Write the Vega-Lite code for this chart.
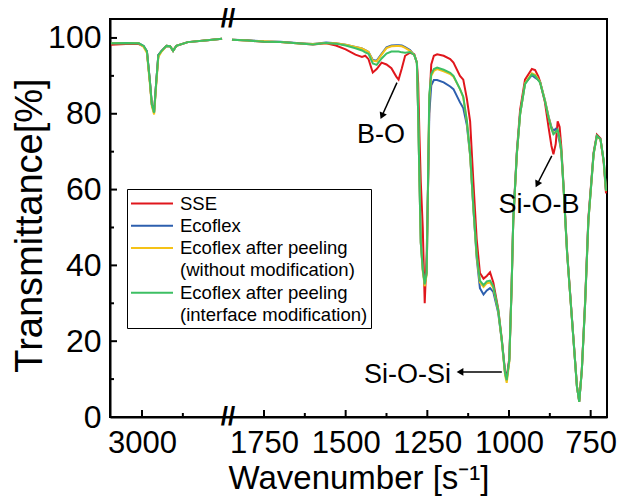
{
"$schema": "https://vega.github.io/schema/vega-lite/v6.json",
"width": 497, "height": 398,
"autosize": {"type": "none"},
"padding": {"left": 110, "top": 19, "right": 12, "bottom": 79},
"background": "white",
"config": {
  "font": "Liberation Sans",
  "view": {"stroke": "black", "strokeWidth": 2},
  "axis": {"grid": false, "domainColor": "black", "domainWidth": 2, "tickColor": "black", "tickWidth": 2, "labelColor": "black", "titleColor": "black", "labelFont": "Liberation Sans", "titleFont": "Liberation Sans", "titleFontWeight": "normal"}
},
"datasets": {
"spectra": [
{"sample":"SSE","seg":"a","wn":3095,"T":98.2},{"sample":"SSE","seg":"a","wn":3050,"T":98.4},{"sample":"SSE","seg":"a","wn":3010,"T":98.4},{"sample":"SSE","seg":"a","wn":2995,"T":97.8},{"sample":"SSE","seg":"a","wn":2985,"T":96.4},{"sample":"SSE","seg":"a","wn":2976,"T":88.7},{"sample":"SSE","seg":"a","wn":2970,"T":82.5},{"sample":"SSE","seg":"a","wn":2963,"T":80.5},{"sample":"SSE","seg":"a","wn":2957,"T":87.8},{"sample":"SSE","seg":"a","wn":2950,"T":95.5},{"sample":"SSE","seg":"a","wn":2940,"T":96.6},{"sample":"SSE","seg":"a","wn":2925,"T":97.9},{"sample":"SSE","seg":"a","wn":2914,"T":97.8},{"sample":"SSE","seg":"a","wn":2905,"T":96.6},{"sample":"SSE","seg":"a","wn":2895,"T":97.9},{"sample":"SSE","seg":"a","wn":2860,"T":98.9},{"sample":"SSE","seg":"a","wn":2800,"T":99.4},{"sample":"SSE","seg":"a","wn":2755,"T":99.8},
{"sample":"SSE","seg":"b","wn":1848,"T":99.5},{"sample":"SSE","seg":"b","wn":1800,"T":99.3},{"sample":"SSE","seg":"b","wn":1750,"T":99.0},{"sample":"SSE","seg":"b","wn":1700,"T":98.9},{"sample":"SSE","seg":"b","wn":1650,"T":98.6},{"sample":"SSE","seg":"b","wn":1600,"T":98.3},{"sample":"SSE","seg":"b","wn":1560,"T":98.6},{"sample":"SSE","seg":"b","wn":1530,"T":98.0},{"sample":"SSE","seg":"b","wn":1500,"T":97.0},{"sample":"SSE","seg":"b","wn":1470,"T":95.6},{"sample":"SSE","seg":"b","wn":1450,"T":95.0},{"sample":"SSE","seg":"b","wn":1440,"T":95.3},{"sample":"SSE","seg":"b","wn":1430,"T":94.4},{"sample":"SSE","seg":"b","wn":1417,"T":90.9},{"sample":"SSE","seg":"b","wn":1405,"T":91.8},{"sample":"SSE","seg":"b","wn":1390,"T":93.5},{"sample":"SSE","seg":"b","wn":1375,"T":93.0},{"sample":"SSE","seg":"b","wn":1360,"T":92.0},{"sample":"SSE","seg":"b","wn":1345,"T":89.8},{"sample":"SSE","seg":"b","wn":1338,"T":89.0},{"sample":"SSE","seg":"b","wn":1328,"T":92.0},{"sample":"SSE","seg":"b","wn":1318,"T":95.3},{"sample":"SSE","seg":"b","wn":1303,"T":96.1},{"sample":"SSE","seg":"b","wn":1290,"T":95.7},{"sample":"SSE","seg":"b","wn":1282,"T":93.5},{"sample":"SSE","seg":"b","wn":1278,"T":88.0},{"sample":"SSE","seg":"b","wn":1274,"T":74.0},{"sample":"SSE","seg":"b","wn":1270,"T":62.0},{"sample":"SSE","seg":"b","wn":1264,"T":50.0},{"sample":"SSE","seg":"b","wn":1258,"T":30.0},{"sample":"SSE","seg":"b","wn":1252,"T":43.0},{"sample":"SSE","seg":"b","wn":1248,"T":60.0},{"sample":"SSE","seg":"b","wn":1244,"T":82.5},{"sample":"SSE","seg":"b","wn":1238,"T":93.0},{"sample":"SSE","seg":"b","wn":1230,"T":95.3},{"sample":"SSE","seg":"b","wn":1220,"T":95.7},{"sample":"SSE","seg":"b","wn":1200,"T":95.3},{"sample":"SSE","seg":"b","wn":1180,"T":94.4},{"sample":"SSE","seg":"b","wn":1170,"T":93.5},{"sample":"SSE","seg":"b","wn":1150,"T":90.0},{"sample":"SSE","seg":"b","wn":1140,"T":89.0},{"sample":"SSE","seg":"b","wn":1129,"T":84.0},{"sample":"SSE","seg":"b","wn":1119,"T":78.0},{"sample":"SSE","seg":"b","wn":1109,"T":62.0},{"sample":"SSE","seg":"b","wn":1099,"T":47.0},{"sample":"SSE","seg":"b","wn":1089,"T":38.0},{"sample":"SSE","seg":"b","wn":1078,"T":36.5},{"sample":"SSE","seg":"b","wn":1068,"T":37.2},{"sample":"SSE","seg":"b","wn":1058,"T":38.2},{"sample":"SSE","seg":"b","wn":1048,"T":35.5},{"sample":"SSE","seg":"b","wn":1033,"T":28.5},{"sample":"SSE","seg":"b","wn":1022,"T":20.5},{"sample":"SSE","seg":"b","wn":1012,"T":12.0},{"sample":"SSE","seg":"b","wn":1007,"T":10.5},{"sample":"SSE","seg":"b","wn":999,"T":15.5},{"sample":"SSE","seg":"b","wn":992,"T":34.5},{"sample":"SSE","seg":"b","wn":987,"T":52.0},{"sample":"SSE","seg":"b","wn":976,"T":70.0},{"sample":"SSE","seg":"b","wn":966,"T":81.0},{"sample":"SSE","seg":"b","wn":951,"T":89.0},{"sample":"SSE","seg":"b","wn":930,"T":91.8},{"sample":"SSE","seg":"b","wn":920,"T":91.5},{"sample":"SSE","seg":"b","wn":910,"T":89.8},{"sample":"SSE","seg":"b","wn":905,"T":88.5},{"sample":"SSE","seg":"b","wn":890,"T":83.0},{"sample":"SSE","seg":"b","wn":879,"T":76.5},{"sample":"SSE","seg":"b","wn":870,"T":71.5},{"sample":"SSE","seg":"b","wn":864,"T":69.3},{"sample":"SSE","seg":"b","wn":857,"T":72.0},{"sample":"SSE","seg":"b","wn":851,"T":78.0},{"sample":"SSE","seg":"b","wn":845,"T":76.5},{"sample":"SSE","seg":"b","wn":840,"T":71.5},{"sample":"SSE","seg":"b","wn":833,"T":61.0},{"sample":"SSE","seg":"b","wn":822,"T":43.5},{"sample":"SSE","seg":"b","wn":807,"T":25.8},{"sample":"SSE","seg":"b","wn":792,"T":8.2},{"sample":"SSE","seg":"b","wn":785,"T":4.2},{"sample":"SSE","seg":"b","wn":777,"T":12.6},{"sample":"SSE","seg":"b","wn":767,"T":30.5},{"sample":"SSE","seg":"b","wn":757,"T":52.5},{"sample":"SSE","seg":"b","wn":741,"T":69.8},{"sample":"SSE","seg":"b","wn":731,"T":74.5},{"sample":"SSE","seg":"b","wn":720,"T":73.5},{"sample":"SSE","seg":"b","wn":710,"T":67.0},{"sample":"SSE","seg":"b","wn":703,"T":59.0},

{"sample":"Ecoflex","seg":"a","wn":3095,"T":98.6},{"sample":"Ecoflex","seg":"a","wn":3050,"T":98.7},{"sample":"Ecoflex","seg":"a","wn":3010,"T":98.6},{"sample":"Ecoflex","seg":"a","wn":2995,"T":97.9},{"sample":"Ecoflex","seg":"a","wn":2985,"T":96.5},{"sample":"Ecoflex","seg":"a","wn":2976,"T":88.7},{"sample":"Ecoflex","seg":"a","wn":2970,"T":82.5},{"sample":"Ecoflex","seg":"a","wn":2963,"T":80.3},{"sample":"Ecoflex","seg":"a","wn":2957,"T":87.8},{"sample":"Ecoflex","seg":"a","wn":2950,"T":95.5},{"sample":"Ecoflex","seg":"a","wn":2940,"T":96.6},{"sample":"Ecoflex","seg":"a","wn":2925,"T":97.9},{"sample":"Ecoflex","seg":"a","wn":2914,"T":97.8},{"sample":"Ecoflex","seg":"a","wn":2905,"T":96.6},{"sample":"Ecoflex","seg":"a","wn":2895,"T":97.9},{"sample":"Ecoflex","seg":"a","wn":2860,"T":98.9},{"sample":"Ecoflex","seg":"a","wn":2800,"T":99.4},{"sample":"Ecoflex","seg":"a","wn":2755,"T":99.8},
{"sample":"Ecoflex","seg":"b","wn":1848,"T":99.5},{"sample":"Ecoflex","seg":"b","wn":1800,"T":99.4},{"sample":"Ecoflex","seg":"b","wn":1750,"T":99.1},{"sample":"Ecoflex","seg":"b","wn":1700,"T":99.0},{"sample":"Ecoflex","seg":"b","wn":1650,"T":98.7},{"sample":"Ecoflex","seg":"b","wn":1600,"T":98.4},{"sample":"Ecoflex","seg":"b","wn":1560,"T":98.8},{"sample":"Ecoflex","seg":"b","wn":1530,"T":98.6},{"sample":"Ecoflex","seg":"b","wn":1500,"T":98.2},{"sample":"Ecoflex","seg":"b","wn":1470,"T":97.6},{"sample":"Ecoflex","seg":"b","wn":1450,"T":97.2},{"sample":"Ecoflex","seg":"b","wn":1440,"T":96.8},{"sample":"Ecoflex","seg":"b","wn":1430,"T":96.3},{"sample":"Ecoflex","seg":"b","wn":1417,"T":94.2},{"sample":"Ecoflex","seg":"b","wn":1405,"T":94.0},{"sample":"Ecoflex","seg":"b","wn":1390,"T":95.8},{"sample":"Ecoflex","seg":"b","wn":1375,"T":97.5},{"sample":"Ecoflex","seg":"b","wn":1360,"T":98.0},{"sample":"Ecoflex","seg":"b","wn":1345,"T":98.1},{"sample":"Ecoflex","seg":"b","wn":1338,"T":98.1},{"sample":"Ecoflex","seg":"b","wn":1328,"T":98.0},{"sample":"Ecoflex","seg":"b","wn":1318,"T":97.6},{"sample":"Ecoflex","seg":"b","wn":1303,"T":96.8},{"sample":"Ecoflex","seg":"b","wn":1290,"T":95.5},{"sample":"Ecoflex","seg":"b","wn":1282,"T":93.5},{"sample":"Ecoflex","seg":"b","wn":1278,"T":80.0},{"sample":"Ecoflex","seg":"b","wn":1274,"T":62.0},{"sample":"Ecoflex","seg":"b","wn":1270,"T":46.0},{"sample":"Ecoflex","seg":"b","wn":1264,"T":39.0},{"sample":"Ecoflex","seg":"b","wn":1258,"T":35.0},{"sample":"Ecoflex","seg":"b","wn":1252,"T":38.0},{"sample":"Ecoflex","seg":"b","wn":1248,"T":60.0},{"sample":"Ecoflex","seg":"b","wn":1244,"T":80.0},{"sample":"Ecoflex","seg":"b","wn":1238,"T":87.5},{"sample":"Ecoflex","seg":"b","wn":1230,"T":88.9},{"sample":"Ecoflex","seg":"b","wn":1220,"T":88.9},{"sample":"Ecoflex","seg":"b","wn":1200,"T":88.3},{"sample":"Ecoflex","seg":"b","wn":1180,"T":87.2},{"sample":"Ecoflex","seg":"b","wn":1170,"T":86.5},{"sample":"Ecoflex","seg":"b","wn":1150,"T":83.0},{"sample":"Ecoflex","seg":"b","wn":1140,"T":81.5},{"sample":"Ecoflex","seg":"b","wn":1129,"T":77.0},{"sample":"Ecoflex","seg":"b","wn":1119,"T":69.0},{"sample":"Ecoflex","seg":"b","wn":1109,"T":55.0},{"sample":"Ecoflex","seg":"b","wn":1099,"T":42.0},{"sample":"Ecoflex","seg":"b","wn":1089,"T":34.0},{"sample":"Ecoflex","seg":"b","wn":1078,"T":32.3},{"sample":"Ecoflex","seg":"b","wn":1068,"T":33.4},{"sample":"Ecoflex","seg":"b","wn":1058,"T":34.0},{"sample":"Ecoflex","seg":"b","wn":1048,"T":33.0},{"sample":"Ecoflex","seg":"b","wn":1033,"T":27.5},{"sample":"Ecoflex","seg":"b","wn":1022,"T":20.0},{"sample":"Ecoflex","seg":"b","wn":1012,"T":11.5},{"sample":"Ecoflex","seg":"b","wn":1007,"T":10.0},{"sample":"Ecoflex","seg":"b","wn":999,"T":15.0},{"sample":"Ecoflex","seg":"b","wn":992,"T":34.3},{"sample":"Ecoflex","seg":"b","wn":987,"T":51.8},{"sample":"Ecoflex","seg":"b","wn":976,"T":69.4},{"sample":"Ecoflex","seg":"b","wn":966,"T":79.9},{"sample":"Ecoflex","seg":"b","wn":951,"T":88.0},{"sample":"Ecoflex","seg":"b","wn":930,"T":90.2},{"sample":"Ecoflex","seg":"b","wn":920,"T":89.5},{"sample":"Ecoflex","seg":"b","wn":910,"T":88.9},{"sample":"Ecoflex","seg":"b","wn":905,"T":88.5},{"sample":"Ecoflex","seg":"b","wn":890,"T":83.6},{"sample":"Ecoflex","seg":"b","wn":879,"T":79.3},{"sample":"Ecoflex","seg":"b","wn":870,"T":76.5},{"sample":"Ecoflex","seg":"b","wn":864,"T":75.5},{"sample":"Ecoflex","seg":"b","wn":857,"T":76.0},{"sample":"Ecoflex","seg":"b","wn":851,"T":75.0},{"sample":"Ecoflex","seg":"b","wn":845,"T":72.5},{"sample":"Ecoflex","seg":"b","wn":840,"T":70.0},{"sample":"Ecoflex","seg":"b","wn":833,"T":60.5},{"sample":"Ecoflex","seg":"b","wn":822,"T":43.1},{"sample":"Ecoflex","seg":"b","wn":807,"T":25.5},{"sample":"Ecoflex","seg":"b","wn":792,"T":8.0},{"sample":"Ecoflex","seg":"b","wn":785,"T":4.0},{"sample":"Ecoflex","seg":"b","wn":777,"T":12.4},{"sample":"Ecoflex","seg":"b","wn":767,"T":29.9},{"sample":"Ecoflex","seg":"b","wn":757,"T":51.8},{"sample":"Ecoflex","seg":"b","wn":741,"T":69.4},{"sample":"Ecoflex","seg":"b","wn":731,"T":74.2},{"sample":"Ecoflex","seg":"b","wn":720,"T":73.3},{"sample":"Ecoflex","seg":"b","wn":710,"T":67.6},{"sample":"Ecoflex","seg":"b","wn":703,"T":59.7},

{"sample":"Ecoflex after peeling (without modification)","seg":"a","wn":3095,"T":98.6},{"sample":"Ecoflex after peeling (without modification)","seg":"a","wn":3050,"T":98.7},{"sample":"Ecoflex after peeling (without modification)","seg":"a","wn":3010,"T":98.6},{"sample":"Ecoflex after peeling (without modification)","seg":"a","wn":2995,"T":97.6},{"sample":"Ecoflex after peeling (without modification)","seg":"a","wn":2985,"T":96.0},{"sample":"Ecoflex after peeling (without modification)","seg":"a","wn":2976,"T":88.0},{"sample":"Ecoflex after peeling (without modification)","seg":"a","wn":2970,"T":82.0},{"sample":"Ecoflex after peeling (without modification)","seg":"a","wn":2963,"T":79.8},{"sample":"Ecoflex after peeling (without modification)","seg":"a","wn":2957,"T":87.0},{"sample":"Ecoflex after peeling (without modification)","seg":"a","wn":2950,"T":95.0},{"sample":"Ecoflex after peeling (without modification)","seg":"a","wn":2940,"T":96.4},{"sample":"Ecoflex after peeling (without modification)","seg":"a","wn":2925,"T":97.9},{"sample":"Ecoflex after peeling (without modification)","seg":"a","wn":2914,"T":97.8},{"sample":"Ecoflex after peeling (without modification)","seg":"a","wn":2905,"T":96.6},{"sample":"Ecoflex after peeling (without modification)","seg":"a","wn":2895,"T":97.9},{"sample":"Ecoflex after peeling (without modification)","seg":"a","wn":2860,"T":98.9},{"sample":"Ecoflex after peeling (without modification)","seg":"a","wn":2800,"T":99.4},{"sample":"Ecoflex after peeling (without modification)","seg":"a","wn":2755,"T":99.8},
{"sample":"Ecoflex after peeling (without modification)","seg":"b","wn":1848,"T":99.5},{"sample":"Ecoflex after peeling (without modification)","seg":"b","wn":1800,"T":99.3},{"sample":"Ecoflex after peeling (without modification)","seg":"b","wn":1750,"T":99.1},{"sample":"Ecoflex after peeling (without modification)","seg":"b","wn":1700,"T":98.9},{"sample":"Ecoflex after peeling (without modification)","seg":"b","wn":1650,"T":98.6},{"sample":"Ecoflex after peeling (without modification)","seg":"b","wn":1600,"T":98.4},{"sample":"Ecoflex after peeling (without modification)","seg":"b","wn":1560,"T":98.7},{"sample":"Ecoflex after peeling (without modification)","seg":"b","wn":1530,"T":98.6},{"sample":"Ecoflex after peeling (without modification)","seg":"b","wn":1500,"T":98.2},{"sample":"Ecoflex after peeling (without modification)","seg":"b","wn":1470,"T":97.6},{"sample":"Ecoflex after peeling (without modification)","seg":"b","wn":1450,"T":97.2},{"sample":"Ecoflex after peeling (without modification)","seg":"b","wn":1440,"T":96.8},{"sample":"Ecoflex after peeling (without modification)","seg":"b","wn":1430,"T":96.3},{"sample":"Ecoflex after peeling (without modification)","seg":"b","wn":1417,"T":94.0},{"sample":"Ecoflex after peeling (without modification)","seg":"b","wn":1405,"T":93.8},{"sample":"Ecoflex after peeling (without modification)","seg":"b","wn":1390,"T":95.6},{"sample":"Ecoflex after peeling (without modification)","seg":"b","wn":1375,"T":97.3},{"sample":"Ecoflex after peeling (without modification)","seg":"b","wn":1360,"T":97.8},{"sample":"Ecoflex after peeling (without modification)","seg":"b","wn":1345,"T":97.9},{"sample":"Ecoflex after peeling (without modification)","seg":"b","wn":1338,"T":97.9},{"sample":"Ecoflex after peeling (without modification)","seg":"b","wn":1328,"T":97.8},{"sample":"Ecoflex after peeling (without modification)","seg":"b","wn":1318,"T":97.4},{"sample":"Ecoflex after peeling (without modification)","seg":"b","wn":1303,"T":96.6},{"sample":"Ecoflex after peeling (without modification)","seg":"b","wn":1290,"T":95.5},{"sample":"Ecoflex after peeling (without modification)","seg":"b","wn":1282,"T":93.5},{"sample":"Ecoflex after peeling (without modification)","seg":"b","wn":1278,"T":80.0},{"sample":"Ecoflex after peeling (without modification)","seg":"b","wn":1274,"T":62.0},{"sample":"Ecoflex after peeling (without modification)","seg":"b","wn":1270,"T":46.0},{"sample":"Ecoflex after peeling (without modification)","seg":"b","wn":1264,"T":38.5},{"sample":"Ecoflex after peeling (without modification)","seg":"b","wn":1258,"T":34.5},{"sample":"Ecoflex after peeling (without modification)","seg":"b","wn":1252,"T":37.5},{"sample":"Ecoflex after peeling (without modification)","seg":"b","wn":1248,"T":60.0},{"sample":"Ecoflex after peeling (without modification)","seg":"b","wn":1244,"T":84.0},{"sample":"Ecoflex after peeling (without modification)","seg":"b","wn":1238,"T":90.0},{"sample":"Ecoflex after peeling (without modification)","seg":"b","wn":1230,"T":91.3},{"sample":"Ecoflex after peeling (without modification)","seg":"b","wn":1220,"T":91.8},{"sample":"Ecoflex after peeling (without modification)","seg":"b","wn":1200,"T":91.2},{"sample":"Ecoflex after peeling (without modification)","seg":"b","wn":1180,"T":90.5},{"sample":"Ecoflex after peeling (without modification)","seg":"b","wn":1170,"T":89.8},{"sample":"Ecoflex after peeling (without modification)","seg":"b","wn":1150,"T":86.5},{"sample":"Ecoflex after peeling (without modification)","seg":"b","wn":1140,"T":84.3},{"sample":"Ecoflex after peeling (without modification)","seg":"b","wn":1129,"T":78.0},{"sample":"Ecoflex after peeling (without modification)","seg":"b","wn":1119,"T":69.0},{"sample":"Ecoflex after peeling (without modification)","seg":"b","wn":1109,"T":55.0},{"sample":"Ecoflex after peeling (without modification)","seg":"b","wn":1099,"T":42.5},{"sample":"Ecoflex after peeling (without modification)","seg":"b","wn":1089,"T":35.5},{"sample":"Ecoflex after peeling (without modification)","seg":"b","wn":1078,"T":34.3},{"sample":"Ecoflex after peeling (without modification)","seg":"b","wn":1068,"T":35.3},{"sample":"Ecoflex after peeling (without modification)","seg":"b","wn":1058,"T":35.5},{"sample":"Ecoflex after peeling (without modification)","seg":"b","wn":1048,"T":34.0},{"sample":"Ecoflex after peeling (without modification)","seg":"b","wn":1033,"T":28.0},{"sample":"Ecoflex after peeling (without modification)","seg":"b","wn":1022,"T":20.0},{"sample":"Ecoflex after peeling (without modification)","seg":"b","wn":1012,"T":11.0},{"sample":"Ecoflex after peeling (without modification)","seg":"b","wn":1007,"T":9.0},{"sample":"Ecoflex after peeling (without modification)","seg":"b","wn":999,"T":14.5},{"sample":"Ecoflex after peeling (without modification)","seg":"b","wn":992,"T":34.0},{"sample":"Ecoflex after peeling (without modification)","seg":"b","wn":987,"T":51.5},{"sample":"Ecoflex after peeling (without modification)","seg":"b","wn":976,"T":69.2},{"sample":"Ecoflex after peeling (without modification)","seg":"b","wn":966,"T":79.8},{"sample":"Ecoflex after peeling (without modification)","seg":"b","wn":951,"T":88.0},{"sample":"Ecoflex after peeling (without modification)","seg":"b","wn":930,"T":90.7},{"sample":"Ecoflex after peeling (without modification)","seg":"b","wn":920,"T":90.3},{"sample":"Ecoflex after peeling (without modification)","seg":"b","wn":910,"T":89.0},{"sample":"Ecoflex after peeling (without modification)","seg":"b","wn":905,"T":88.4},{"sample":"Ecoflex after peeling (without modification)","seg":"b","wn":890,"T":83.6},{"sample":"Ecoflex after peeling (without modification)","seg":"b","wn":879,"T":79.2},{"sample":"Ecoflex after peeling (without modification)","seg":"b","wn":870,"T":76.2},{"sample":"Ecoflex after peeling (without modification)","seg":"b","wn":864,"T":74.8},{"sample":"Ecoflex after peeling (without modification)","seg":"b","wn":857,"T":75.2},{"sample":"Ecoflex after peeling (without modification)","seg":"b","wn":851,"T":75.5},{"sample":"Ecoflex after peeling (without modification)","seg":"b","wn":845,"T":73.3},{"sample":"Ecoflex after peeling (without modification)","seg":"b","wn":840,"T":70.3},{"sample":"Ecoflex after peeling (without modification)","seg":"b","wn":833,"T":60.4},{"sample":"Ecoflex after peeling (without modification)","seg":"b","wn":822,"T":43.0},{"sample":"Ecoflex after peeling (without modification)","seg":"b","wn":807,"T":25.4},{"sample":"Ecoflex after peeling (without modification)","seg":"b","wn":792,"T":8.0},{"sample":"Ecoflex after peeling (without modification)","seg":"b","wn":785,"T":4.0},{"sample":"Ecoflex after peeling (without modification)","seg":"b","wn":777,"T":12.4},{"sample":"Ecoflex after peeling (without modification)","seg":"b","wn":767,"T":29.8},{"sample":"Ecoflex after peeling (without modification)","seg":"b","wn":757,"T":51.6},{"sample":"Ecoflex after peeling (without modification)","seg":"b","wn":741,"T":69.3},{"sample":"Ecoflex after peeling (without modification)","seg":"b","wn":731,"T":74.1},{"sample":"Ecoflex after peeling (without modification)","seg":"b","wn":720,"T":73.2},{"sample":"Ecoflex after peeling (without modification)","seg":"b","wn":710,"T":67.5},{"sample":"Ecoflex after peeling (without modification)","seg":"b","wn":703,"T":59.6},

{"sample":"Ecoflex after peeling (interface modification)","seg":"a","wn":3095,"T":98.6},{"sample":"Ecoflex after peeling (interface modification)","seg":"a","wn":3050,"T":98.7},{"sample":"Ecoflex after peeling (interface modification)","seg":"a","wn":3010,"T":98.6},{"sample":"Ecoflex after peeling (interface modification)","seg":"a","wn":2995,"T":97.9},{"sample":"Ecoflex after peeling (interface modification)","seg":"a","wn":2985,"T":96.5},{"sample":"Ecoflex after peeling (interface modification)","seg":"a","wn":2976,"T":88.7},{"sample":"Ecoflex after peeling (interface modification)","seg":"a","wn":2970,"T":82.5},{"sample":"Ecoflex after peeling (interface modification)","seg":"a","wn":2963,"T":80.3},{"sample":"Ecoflex after peeling (interface modification)","seg":"a","wn":2957,"T":87.8},{"sample":"Ecoflex after peeling (interface modification)","seg":"a","wn":2950,"T":95.5},{"sample":"Ecoflex after peeling (interface modification)","seg":"a","wn":2940,"T":96.6},{"sample":"Ecoflex after peeling (interface modification)","seg":"a","wn":2925,"T":97.9},{"sample":"Ecoflex after peeling (interface modification)","seg":"a","wn":2914,"T":97.8},{"sample":"Ecoflex after peeling (interface modification)","seg":"a","wn":2905,"T":96.6},{"sample":"Ecoflex after peeling (interface modification)","seg":"a","wn":2895,"T":97.9},{"sample":"Ecoflex after peeling (interface modification)","seg":"a","wn":2860,"T":98.9},{"sample":"Ecoflex after peeling (interface modification)","seg":"a","wn":2800,"T":99.4},{"sample":"Ecoflex after peeling (interface modification)","seg":"a","wn":2755,"T":99.8},
{"sample":"Ecoflex after peeling (interface modification)","seg":"b","wn":1848,"T":99.5},{"sample":"Ecoflex after peeling (interface modification)","seg":"b","wn":1800,"T":99.3},{"sample":"Ecoflex after peeling (interface modification)","seg":"b","wn":1750,"T":99.0},{"sample":"Ecoflex after peeling (interface modification)","seg":"b","wn":1700,"T":98.9},{"sample":"Ecoflex after peeling (interface modification)","seg":"b","wn":1650,"T":98.6},{"sample":"Ecoflex after peeling (interface modification)","seg":"b","wn":1600,"T":98.3},{"sample":"Ecoflex after peeling (interface modification)","seg":"b","wn":1560,"T":98.7},{"sample":"Ecoflex after peeling (interface modification)","seg":"b","wn":1530,"T":98.5},{"sample":"Ecoflex after peeling (interface modification)","seg":"b","wn":1500,"T":98.0},{"sample":"Ecoflex after peeling (interface modification)","seg":"b","wn":1470,"T":97.3},{"sample":"Ecoflex after peeling (interface modification)","seg":"b","wn":1450,"T":96.7},{"sample":"Ecoflex after peeling (interface modification)","seg":"b","wn":1440,"T":96.2},{"sample":"Ecoflex after peeling (interface modification)","seg":"b","wn":1430,"T":95.8},{"sample":"Ecoflex after peeling (interface modification)","seg":"b","wn":1417,"T":93.3},{"sample":"Ecoflex after peeling (interface modification)","seg":"b","wn":1405,"T":92.9},{"sample":"Ecoflex after peeling (interface modification)","seg":"b","wn":1390,"T":94.6},{"sample":"Ecoflex after peeling (interface modification)","seg":"b","wn":1375,"T":95.9},{"sample":"Ecoflex after peeling (interface modification)","seg":"b","wn":1360,"T":96.4},{"sample":"Ecoflex after peeling (interface modification)","seg":"b","wn":1345,"T":96.4},{"sample":"Ecoflex after peeling (interface modification)","seg":"b","wn":1338,"T":96.4},{"sample":"Ecoflex after peeling (interface modification)","seg":"b","wn":1328,"T":96.2},{"sample":"Ecoflex after peeling (interface modification)","seg":"b","wn":1318,"T":96.1},{"sample":"Ecoflex after peeling (interface modification)","seg":"b","wn":1303,"T":96.3},{"sample":"Ecoflex after peeling (interface modification)","seg":"b","wn":1290,"T":95.5},{"sample":"Ecoflex after peeling (interface modification)","seg":"b","wn":1282,"T":93.5},{"sample":"Ecoflex after peeling (interface modification)","seg":"b","wn":1278,"T":80.0},{"sample":"Ecoflex after peeling (interface modification)","seg":"b","wn":1274,"T":62.0},{"sample":"Ecoflex after peeling (interface modification)","seg":"b","wn":1270,"T":46.0},{"sample":"Ecoflex after peeling (interface modification)","seg":"b","wn":1264,"T":39.0},{"sample":"Ecoflex after peeling (interface modification)","seg":"b","wn":1258,"T":35.0},{"sample":"Ecoflex after peeling (interface modification)","seg":"b","wn":1252,"T":38.0},{"sample":"Ecoflex after peeling (interface modification)","seg":"b","wn":1248,"T":62.0},{"sample":"Ecoflex after peeling (interface modification)","seg":"b","wn":1244,"T":85.0},{"sample":"Ecoflex after peeling (interface modification)","seg":"b","wn":1238,"T":90.5},{"sample":"Ecoflex after peeling (interface modification)","seg":"b","wn":1230,"T":91.8},{"sample":"Ecoflex after peeling (interface modification)","seg":"b","wn":1220,"T":92.2},{"sample":"Ecoflex after peeling (interface modification)","seg":"b","wn":1200,"T":91.6},{"sample":"Ecoflex after peeling (interface modification)","seg":"b","wn":1180,"T":90.8},{"sample":"Ecoflex after peeling (interface modification)","seg":"b","wn":1170,"T":90.0},{"sample":"Ecoflex after peeling (interface modification)","seg":"b","wn":1150,"T":86.5},{"sample":"Ecoflex after peeling (interface modification)","seg":"b","wn":1140,"T":84.5},{"sample":"Ecoflex after peeling (interface modification)","seg":"b","wn":1129,"T":78.2},{"sample":"Ecoflex after peeling (interface modification)","seg":"b","wn":1119,"T":69.5},{"sample":"Ecoflex after peeling (interface modification)","seg":"b","wn":1109,"T":55.3},{"sample":"Ecoflex after peeling (interface modification)","seg":"b","wn":1099,"T":43.0},{"sample":"Ecoflex after peeling (interface modification)","seg":"b","wn":1089,"T":36.0},{"sample":"Ecoflex after peeling (interface modification)","seg":"b","wn":1078,"T":34.8},{"sample":"Ecoflex after peeling (interface modification)","seg":"b","wn":1068,"T":35.8},{"sample":"Ecoflex after peeling (interface modification)","seg":"b","wn":1058,"T":36.0},{"sample":"Ecoflex after peeling (interface modification)","seg":"b","wn":1048,"T":34.5},{"sample":"Ecoflex after peeling (interface modification)","seg":"b","wn":1033,"T":28.2},{"sample":"Ecoflex after peeling (interface modification)","seg":"b","wn":1022,"T":20.3},{"sample":"Ecoflex after peeling (interface modification)","seg":"b","wn":1012,"T":11.5},{"sample":"Ecoflex after peeling (interface modification)","seg":"b","wn":1007,"T":9.7},{"sample":"Ecoflex after peeling (interface modification)","seg":"b","wn":999,"T":15.0},{"sample":"Ecoflex after peeling (interface modification)","seg":"b","wn":992,"T":34.3},{"sample":"Ecoflex after peeling (interface modification)","seg":"b","wn":987,"T":51.8},{"sample":"Ecoflex after peeling (interface modification)","seg":"b","wn":976,"T":69.4},{"sample":"Ecoflex after peeling (interface modification)","seg":"b","wn":966,"T":79.9},{"sample":"Ecoflex after peeling (interface modification)","seg":"b","wn":951,"T":87.8},{"sample":"Ecoflex after peeling (interface modification)","seg":"b","wn":930,"T":90.4},{"sample":"Ecoflex after peeling (interface modification)","seg":"b","wn":920,"T":90.0},{"sample":"Ecoflex after peeling (interface modification)","seg":"b","wn":910,"T":88.8},{"sample":"Ecoflex after peeling (interface modification)","seg":"b","wn":905,"T":88.2},{"sample":"Ecoflex after peeling (interface modification)","seg":"b","wn":890,"T":83.4},{"sample":"Ecoflex after peeling (interface modification)","seg":"b","wn":879,"T":79.0},{"sample":"Ecoflex after peeling (interface modification)","seg":"b","wn":870,"T":76.0},{"sample":"Ecoflex after peeling (interface modification)","seg":"b","wn":864,"T":74.6},{"sample":"Ecoflex after peeling (interface modification)","seg":"b","wn":857,"T":75.2},{"sample":"Ecoflex after peeling (interface modification)","seg":"b","wn":851,"T":75.8},{"sample":"Ecoflex after peeling (interface modification)","seg":"b","wn":845,"T":73.5},{"sample":"Ecoflex after peeling (interface modification)","seg":"b","wn":840,"T":70.5},{"sample":"Ecoflex after peeling (interface modification)","seg":"b","wn":833,"T":60.6},{"sample":"Ecoflex after peeling (interface modification)","seg":"b","wn":822,"T":43.1},{"sample":"Ecoflex after peeling (interface modification)","seg":"b","wn":807,"T":25.5},{"sample":"Ecoflex after peeling (interface modification)","seg":"b","wn":792,"T":8.0},{"sample":"Ecoflex after peeling (interface modification)","seg":"b","wn":785,"T":4.0},{"sample":"Ecoflex after peeling (interface modification)","seg":"b","wn":777,"T":12.4},{"sample":"Ecoflex after peeling (interface modification)","seg":"b","wn":767,"T":29.9},{"sample":"Ecoflex after peeling (interface modification)","seg":"b","wn":757,"T":51.8},{"sample":"Ecoflex after peeling (interface modification)","seg":"b","wn":741,"T":69.4},{"sample":"Ecoflex after peeling (interface modification)","seg":"b","wn":731,"T":74.2},{"sample":"Ecoflex after peeling (interface modification)","seg":"b","wn":720,"T":73.3},{"sample":"Ecoflex after peeling (interface modification)","seg":"b","wn":710,"T":67.6},{"sample":"Ecoflex after peeling (interface modification)","seg":"b","wn":703,"T":59.7}
],
"arrows": [
{"name":"B-O","wn":1343,"T":88.2,"wn2":1389,"T2":79.4},
{"name":"Si-O-B","wn":869,"T":68.9,"wn2":913.7,"T2":61.4},
{"name":"Si-O-Si","wn":1022,"T":11.9,"wn2":1150,"T2":11.9}
],
"labels": [
{"text":"B-O","wn":1392,"T":74.5},
{"text":"Si-O-B","wn":908,"T":56},
{"text":"Si-O-Si","wn":1311,"T":11.05}
],
"breaks": [
{"wn":2300,"T":105},
{"wn":2300,"T":0}
],
"ticksX": [
{"wn":3000,"T":0,"kind":"major"},{"wn":1750,"T":0,"kind":"major"},{"wn":1500,"T":0,"kind":"major"},{"wn":1250,"T":0,"kind":"major"},{"wn":1000,"T":0,"kind":"major"},{"wn":750,"T":0,"kind":"major"},
{"wn":2875,"T":0,"kind":"minor"},{"wn":1625,"T":0,"kind":"minor"},{"wn":1375,"T":0,"kind":"minor"},{"wn":1125,"T":0,"kind":"minor"},{"wn":875,"T":0,"kind":"minor"}
],
"ticksY": [
{"wn":3098,"T":20,"kind":"major"},{"wn":3098,"T":40,"kind":"major"},{"wn":3098,"T":60,"kind":"major"},{"wn":3098,"T":80,"kind":"major"},{"wn":3098,"T":100,"kind":"major"},
{"wn":3098,"T":10,"kind":"minor"},{"wn":3098,"T":30,"kind":"minor"},{"wn":3098,"T":50,"kind":"minor"},{"wn":3098,"T":70,"kind":"minor"},{"wn":3098,"T":90,"kind":"minor"}
]
},
"layer": [
{
 "data": {"name": "spectra"},
 "mark": {"type": "line", "strokeWidth": 2},
 "encoding": {
  "x": {"field": "wn", "type": "quantitative",
        "scale": {"domain": [3098, 2746, 1851, 700], "range": [0, 115, 121, 497], "nice": false, "zero": false},
        "axis": {"orient": "bottom", "values": [3000, 1750, 1500, 1250, 1000, 750], "format": "d", "ticks": false, "tickSize": 0, "labelFontSize": 31, "labelPadding": 11, "labelFlush": false, "labelOverlap": false, "title": "Wavenumber [s⁻¹]", "titleFontSize": 33, "titleY": 71, "titleBaseline": "alphabetic"}},
  "y": {"field": "T", "type": "quantitative",
        "scale": {"domain": [0, 105], "nice": false, "zero": false},
        "axis": {"orient": "left", "values": [0, 20, 40, 60, 80, 100], "format": "d", "ticks": false, "tickSize": 0, "labelFontSize": 32, "labelPadding": 9, "labelFlush": false, "labelOverlap": false, "title": "Transmittance[%]", "titleFontSize": 38, "titleX": -80, "titleY": 206, "titleAngle": 270, "titleAlign": "center", "titleBaseline": "middle"}},
  "color": {"field": "sample", "type": "nominal",
        "scale": {"domain": ["SSE", "Ecoflex", "Ecoflex after peeling (without modification)", "(without modification)", "Ecoflex after peeling (interface modification)", "(interface modification)"], "range": ["#e0161c", "#2d5fae", "#f5c217", "transparent", "#3dbf63", "transparent"]},
        "legend": {"orient": "none", "legendX": 17, "legendY": 170, "title": null, "strokeColor": "black", "padding": 3, "symbolType": "M-2,0H2", "symbolSize": 441, "symbolStrokeWidth": 2, "symbolOffset": 10.5, "labelFontSize": 18.5, "labelLimit": 400, "labelOffset": 16.5, "rowPadding": 1.3,
                   "labelExpr": "indexof(datum.label, 'Ecoflex after peeling') == 0 ? 'Ecoflex after peeling' : datum.label"}},
  "detail": {"field": "seg", "type": "nominal"}
 }
},
{
 "data": {"name": "ticksX"},
 "transform": [{"filter": "datum.kind == 'major'"}],
 "mark": {"type": "point", "shape": "M0,0V-1", "size": 196, "filled": false, "color": "black", "strokeWidth": 2, "opacity": 1, "strokeCap": "butt"},
 "encoding": {
  "x": {"field": "wn", "type": "quantitative", "axis": null},
  "y": {"field": "T", "type": "quantitative", "axis": null}
 }
},
{
 "data": {"name": "ticksX"},
 "transform": [{"filter": "datum.kind == 'minor'"}],
 "mark": {"type": "point", "shape": "M0,0V-1", "size": 64, "filled": false, "color": "black", "strokeWidth": 2, "opacity": 1, "strokeCap": "butt"},
 "encoding": {
  "x": {"field": "wn", "type": "quantitative", "axis": null},
  "y": {"field": "T", "type": "quantitative", "axis": null}
 }
},
{
 "data": {"name": "ticksY"},
 "transform": [{"filter": "datum.kind == 'major'"}],
 "mark": {"type": "point", "shape": "M0,0H1", "size": 196, "filled": false, "color": "black", "strokeWidth": 2, "opacity": 1, "strokeCap": "butt"},
 "encoding": {
  "x": {"field": "wn", "type": "quantitative", "axis": null},
  "y": {"field": "T", "type": "quantitative", "axis": null}
 }
},
{
 "data": {"name": "ticksY"},
 "transform": [{"filter": "datum.kind == 'minor'"}],
 "mark": {"type": "point", "shape": "M0,0H1", "size": 64, "filled": false, "color": "black", "strokeWidth": 2, "opacity": 1, "strokeCap": "butt"},
 "encoding": {
  "x": {"field": "wn", "type": "quantitative", "axis": null},
  "y": {"field": "T", "type": "quantitative", "axis": null}
 }
},
{
 "data": {"name": "breaks"},
 "mark": {"type": "text", "text": "//", "fontSize": 26, "fontWeight": "bold", "align": "center", "baseline": "middle", "color": "black"},
 "encoding": {
  "x": {"field": "wn", "type": "quantitative", "axis": null},
  "y": {"field": "T", "type": "quantitative", "axis": null}
 }
},
{
 "data": {"name": "arrows"},
 "mark": {"type": "rule", "color": "black", "strokeWidth": 1.5},
 "encoding": {
  "x": {"field": "wn", "type": "quantitative", "axis": null},
  "y": {"field": "T", "type": "quantitative", "axis": null},
  "x2": {"field": "wn2"},
  "y2": {"field": "T2"}
 }
},
{
 "data": {"name": "arrows"},
 "transform": [{"filter": "datum.name == 'B-O'"}],
 "mark": {"type": "point", "shape": "triangle-up", "filled": true, "color": "black", "size": 60, "angle": 204, "opacity": 1},
 "encoding": {
  "x": {"field": "wn2", "type": "quantitative", "axis": null},
  "y": {"field": "T2", "type": "quantitative", "axis": null}
 }
},
{
 "data": {"name": "arrows"},
 "transform": [{"filter": "datum.name == 'Si-O-B'"}],
 "mark": {"type": "point", "shape": "triangle-up", "filled": true, "color": "black", "size": 60, "angle": 207, "opacity": 1},
 "encoding": {
  "x": {"field": "wn2", "type": "quantitative", "axis": null},
  "y": {"field": "T2", "type": "quantitative", "axis": null}
 }
},
{
 "data": {"name": "arrows"},
 "transform": [{"filter": "datum.name == 'Si-O-Si'"}],
 "mark": {"type": "point", "shape": "triangle-up", "filled": true, "color": "black", "size": 60, "angle": 270, "opacity": 1},
 "encoding": {
  "x": {"field": "wn2", "type": "quantitative", "axis": null},
  "y": {"field": "T2", "type": "quantitative", "axis": null}
 }
},
{
 "data": {"name": "labels"},
 "mark": {"type": "text", "fontSize": 27, "align": "center", "baseline": "middle", "color": "black"},
 "encoding": {
  "x": {"field": "wn", "type": "quantitative", "axis": null},
  "y": {"field": "T", "type": "quantitative", "axis": null},
  "text": {"field": "text"}
 }
}
],
"resolve": {"axis": {"x": "independent", "y": "independent"}}
}
